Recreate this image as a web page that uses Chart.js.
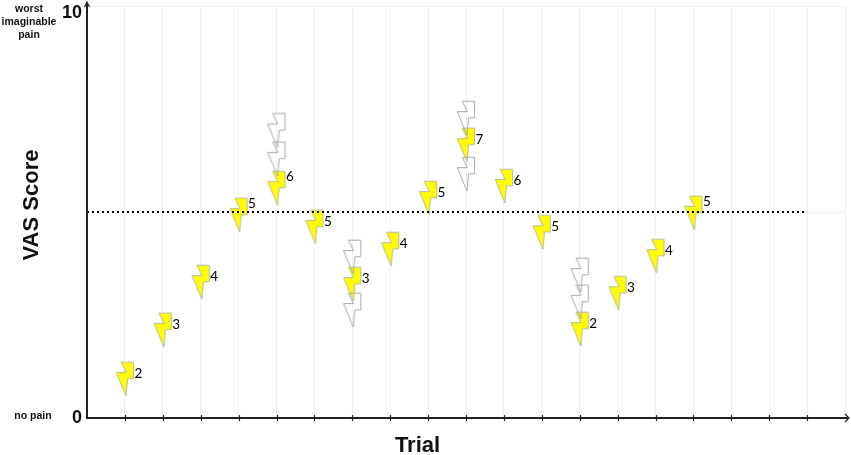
<!DOCTYPE html>
<html>
<head>
<meta charset="utf-8">
<style>html,body{margin:0;padding:0;background:#fff}canvas{display:block}</style>
<script src="https://cdn.jsdelivr.net/npm/chart.js@4"></script>
</head>
<body>
<canvas id="c" width="851" height="455"></canvas>
<script>
const trials = [1,2,3,4,5,6,7,8,9,10,11,12,13,14,15,16];
const vasScores = [0.95,2.14,3.30,4.93,5.58,4.64,3.25,4.10,5.34,6.63,5.63,4.51,2.16,3.03,3.93,4.98];
const pointLabels = ['2','3','4','5','6','5','3','4','5','7','6','5','2','3','4','5'];
const raisedLabelTrials = [4,5,16];
const ghostTrials = [5,5,7,7,10,10,13,13];
const ghostScores = [6.98,6.29,3.91,2.62,7.28,5.92,3.47,2.82];
const referenceTrials = [0,19];
const referenceScores = [5,5];
const yTickValues = [0,10];
const xTitle = 'Trial';
const yTitle = 'VAS Score';
const topAnchor = ['worst','imaginable','pain'];
const bottomAnchor = 'no pain';

function makeBolt(fill, stroke){
  const c = document.createElement('canvas');
  c.width = 20; c.height = 36;
  const g = c.getContext('2d');
  g.beginPath();
  [[6.2,1.2],[18.6,1.2],[18.6,17.8],[12.6,17.8],[11,35],[1.3,11.6],[11.3,11.6]]
    .forEach((p,i)=> i ? g.lineTo(p[0],p[1]) : g.moveTo(p[0],p[1]));
  g.closePath();
  if (fill){ g.fillStyle = fill; g.fill(); }
  g.strokeStyle = stroke; g.lineWidth = 1; g.stroke();
  return c;
}
const yellowBolt = makeBolt('#ffff00','#b8b8a0');
const ghostBolt = makeBolt(null,'#a8a8a8');

const annotate = {
  id:'annotate',
  afterDatasetsDraw(chart){
    const {ctx, scales:{x,y}} = chart;
    ctx.save();
    // point value labels
    ctx.fillStyle = '#000';
    ctx.font = '13.5px Lato';
    ctx.textAlign = 'left'; ctx.textBaseline = 'middle';
    trials.forEach((t,i)=>{
      const up = raisedLabelTrials.includes(t) ? 11 : 5.5;
      ctx.fillText(pointLabels[i], x.getPixelForValue(t)+9.5, y.getPixelForValue(vasScores[i])-up);
    });
    // axes
    ctx.strokeStyle = '#222'; ctx.fillStyle = '#222'; ctx.lineWidth = 2;
    const x0 = x.getPixelForValue(0), y0 = y.getPixelForValue(0), right = x.right;
    ctx.beginPath();
    ctx.moveTo(x0,y0+1); ctx.lineTo(x0,3);
    ctx.moveTo(x0-1,y0); ctx.lineTo(right+3,y0);
    ctx.stroke();
    ctx.lineWidth = 1.2;
    ctx.beginPath();
    ctx.moveTo(x0-2.5,7); ctx.lineTo(x0,2); ctx.lineTo(x0+2.5,7);
    ctx.moveTo(right,y0-4); ctx.lineTo(right+4,y0); ctx.lineTo(right,y0+4);
    for (let t=1;t<=19;t++){
      const px = Math.round(x.getPixelForValue(t))+0.5;
      ctx.moveTo(px,y0-3); ctx.lineTo(px,y0+3);
    }
    ctx.stroke();
    // text annotations
    ctx.fillStyle = '#111';
    ctx.textAlign = 'center';
    ctx.font = 'bold 10.5px "Liberation Sans"';
    topAnchor.forEach((s,i)=> ctx.fillText(s, 29, 9+13.3*i));
    ctx.fillText(bottomAnchor, 33, 416.5);
    ctx.font = 'bold 22px "Liberation Sans"';
    ctx.fillText(xTitle, 417.5, 446);
    ctx.translate(32,205); ctx.rotate(-Math.PI/2);
    ctx.font = 'bold 22px "Liberation Sans"';
    ctx.fillText(yTitle, 0, 0);
    ctx.restore();
  }
};

new Chart(document.getElementById('c'),{
  type:'scatter',
  data:{datasets:[
    {label:'Reference', type:'line', data:referenceTrials.map((t,i)=>({x:t,y:referenceScores[i]})),
     borderColor:'#000', borderWidth:2, borderDash:[2,3], pointRadius:0, fill:false},
    {label:'Other ratings', data:ghostTrials.map((t,i)=>({x:t,y:ghostScores[i]})),
     pointStyle:ghostBolt, pointRadius:10},
    {label:'VAS', data:trials.map((t,i)=>({x:t,y:vasScores[i]})),
     pointStyle:yellowBolt, pointRadius:10}
  ]},
  options:{
    responsive:false, animation:false,
    layout:{autoPadding:false,padding:{top:6,right:6,left:0,bottom:0}},
    plugins:{legend:{display:false},tooltip:{enabled:false}},
    scales:{
      x:{type:'linear',min:0,max:20,
        afterFit(s){s.height=37;s.paddingLeft=0;s.paddingRight=0;},
        border:{display:false},
        grid:{color:'#f1f1f1',lineWidth:1,drawTicks:false},
        ticks:{display:false,stepSize:1}},
      y:{type:'linear',min:0,max:10,
        afterFit(s){s.width=87;s.paddingTop=0;s.paddingBottom=0;},
        border:{display:false},
        grid:{color:'#f1f1f1',lineWidth:1,drawTicks:false},
        ticks:{stepSize:5,padding:5,color:'#111',
          font:{family:'"Liberation Sans"',weight:'bold',size:18,lineHeight:0.8},
          callback(v){ return v===yTickValues[1] ? ['', String(v)] : (v===yTickValues[0] ? String(v) : ''); }}}
    }
  },
  plugins:[annotate]
});
</script>
</body>
</html>
